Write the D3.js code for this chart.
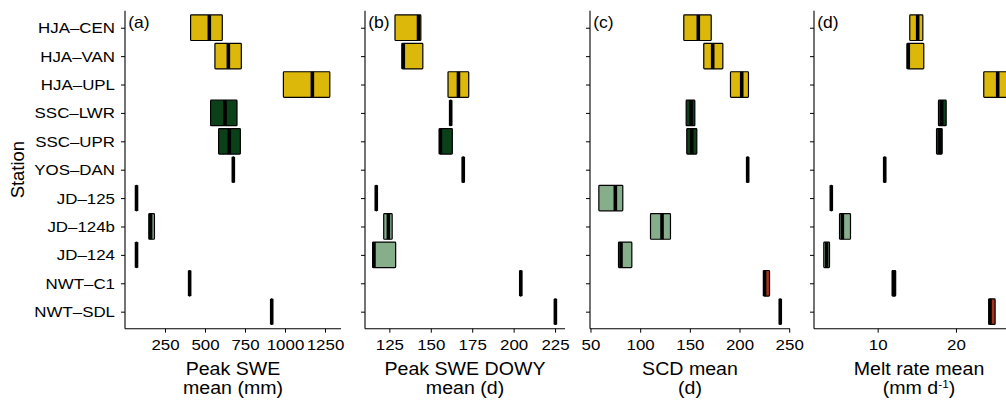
<!DOCTYPE html>
<html>
<head>
<meta charset="utf-8">
<script src="https://cdn.jsdelivr.net/npm/d3@7"></script>
<style>
  html, body { margin: 0; padding: 0; background: #fff; }
  svg { display: block; }
  text { font-family: "Liberation Sans", Arial, Helvetica, sans-serif; fill: #000; }
</style>
</head>
<body>
<svg id="chart" width="1006" height="401"></svg>
<script>
// ---------------- DATA ----------------
const stations = ["HJA–CEN","HJA–VAN","HJA–UPL","SSC–LWR","SSC–UPR","YOS–DAN","JD–125","JD–124b","JD–124","NWT–C1","NWT–SDL"];
const stationGroup = ["HJA","HJA","HJA","SSC","SSC","YOS","JD","JD","JD","NWT","NWT"];

// (a) Peak SWE mean (mm)
const sweMin = [410, 562, 990, 535, 585, 673, 68, 149, 68, 400, 913];
const sweMed = [527, 646, 1171, 625, 652, 677, 72, 160, 72, 404, 917];
const sweMax = [608, 727, 1280, 700, 721, 681, 76, 184, 76, 408, 921];

// (b) Peak SWE DOWY mean (d)
const dowyMin = [128.4, 132.6, 160.4, 161.5, 155.2, 169.1, 116.7, 121.6, 114.9, 203.8, 224.7];
const dowyMed = [142.6, 133.4, 166.7, 162.0, 155.8, 169.6, 117.1, 124.4, 115.7, 204.3, 225.2];
const dowyMax = [144.0, 145.2, 172.9, 162.5, 163.0, 170.1, 117.5, 126.7, 128.8, 204.8, 225.7];

// (c) SCD mean (d)
const scdMin = [143.9, 164.0, 190.9, 146.3, 146.9, 207.3, 58.4, 110.4, 78.2, 224.2, 240.3];
const scdMed = [158.5, 173.0, 202.2, 151.2, 151.9, 208.2, 75.0, 122.0, 80.7, 225.2, 241.0];
const scdMax = [171.5, 183.2, 209.0, 155.0, 157.0, 209.0, 82.5, 130.5, 91.6, 230.2, 241.7];

// (d) Melt rate mean (mm d-1)
const meltMin = [14.10, 13.77, 23.55, 17.77, 17.52, 10.80, 3.99, 5.13, 3.12, 11.85, 24.20];
const meltMed = [15.11, 13.91, 25.33, 18.18, 17.96, 10.90, 4.08, 5.49, 3.49, 12.05, 24.35];
const meltMax = [15.77, 15.89, 26.60, 18.75, 18.24, 11.00, 4.17, 6.53, 3.85, 12.30, 25.00];

// tick labels
const sweTicks  = [250, 500, 750, 1000, 1250];
const dowyTicks = [125, 150, 175, 200, 225];
const scdTicks  = [50, 100, 150, 200, 250];
const meltTicks = [10, 20];

const groupNames  = ["HJA", "SSC", "YOS", "JD", "NWT"];
const groupColors = ["#DBB80A", "#0B4119", "#33331f", "#86AE8B", "#A8321B"];

// ---------------- LAYOUT ----------------
const svg = d3.select("#chart");
svg.append("rect").attr("width", 1006).attr("height", 401).attr("fill", "#fff");

const plotTop = 10.7, plotBottom = 328.7;
const y = d3.scalePoint().domain(stations).range([plotTop, plotBottom]).padding(0.6);
const boxH = y.step() * 0.9;
const color = d3.scaleOrdinal().domain(groupNames).range(groupColors);

const panels = [
  { label: "(a)", min: sweMin,  med: sweMed,  max: sweMax,  ticks: sweTicks,  domain: [0, 1350],       range: [125, 341],  title: ["Peak SWE", "mean (mm)"], showY: true },
  { label: "(b)", min: dowyMin, med: dowyMed, max: dowyMax, ticks: dowyTicks, domain: [110.3, 231.0], range: [365, 565],  title: ["Peak SWE DOWY", "mean (d)"] },
  { label: "(c)", min: scdMin,  med: scdMed,  max: scdMax,  ticks: scdTicks,  domain: [49.5, 250.8],  range: [590, 790],  title: ["SCD mean", "(d)"] },
  { label: "(d)", min: meltMin, med: meltMed, max: meltMax, ticks: meltTicks, domain: [1.87, 28.69],  range: [814, 1024], title: ["Melt rate mean", null], melt: true }
];

const tickFont = 15.5, tickSX = 1.09;
const titleFont = 17.5, titleSX = 1.12;

panels.forEach(p => {
  const x = d3.scaleLinear().domain(p.domain).range(p.range);
  const g = svg.append("g");

  // boxes
  const idx = d3.range(stations.length);
  const bars = g.append("g").selectAll("g").data(idx).join("g");
  bars.append("rect")
    .attr("x", i => x(p.min[i]))
    .attr("width", i => Math.max(0, x(p.max[i]) - x(p.min[i])))
    .attr("y", i => y(stations[i]) - boxH / 2)
    .attr("height", boxH)
    .attr("rx", 0.8)
    .attr("fill", i => color(stationGroup[i]))
    .attr("stroke", "#000")
    .attr("stroke-width", 1.2);
  bars.append("line")
    .attr("x1", i => x(p.med[i])).attr("x2", i => x(p.med[i]))
    .attr("y1", i => y(stations[i]) - boxH / 2)
    .attr("y2", i => y(stations[i]) + boxH / 2)
    .attr("stroke", "#000")
    .attr("stroke-width", 3.6);

  // x axis
  const xa = g.append("g").attr("transform", `translate(0,${plotBottom})`)
    .call(d3.axisBottom(x).tickValues(p.ticks).tickFormat(d3.format("d"))
      .tickSize(4).tickPadding(6).tickSizeOuter(0));
  xa.select(".domain").attr("stroke", "#000").attr("stroke-width", 1.1)
    .attr("d", `M${p.range[0]},0H${p.range[1]}`);
  xa.selectAll(".tick line").attr("stroke", "#000").attr("stroke-width", 1);
  xa.selectAll(".tick text")
    .attr("font-size", tickFont)
    .attr("font-family", null)
    .attr("fill", "#111")
    .attr("transform", `scale(${tickSX},1)`);

  // y axis
  const ya = g.append("g").attr("transform", `translate(${p.range[0]},0)`)
    .call(d3.axisLeft(y).tickSize(4).tickPadding(6).tickSizeOuter(0));
  ya.select(".domain").attr("stroke", "#000").attr("stroke-width", 1.1)
    .attr("d", `M0,${plotTop}V${plotBottom}`);
  ya.selectAll(".tick line").attr("stroke", "#000").attr("stroke-width", 1);
  if (p.showY) {
    ya.selectAll(".tick text")
      .attr("font-size", tickFont)
      .attr("font-family", null)
      .attr("fill", "#111")
      .attr("x", 0)
      .attr("transform", `translate(-10,0) scale(${tickSX},1)`);
  } else {
    ya.selectAll(".tick text").remove();
  }

  // panel label
  g.append("text")
    .attr("transform", `translate(${p.range[0] + 3.3},28) scale(1.06,1)`)
    .attr("font-size", 16.5)
    .text(p.label);

  // axis title
  const cx = (p.range[0] + p.range[1]) / 2;
  g.append("text")
    .attr("transform", `translate(${cx},375) scale(${titleSX},1)`)
    .attr("text-anchor", "middle")
    .attr("font-size", titleFont)
    .text(p.title[0]);
  if (p.melt) {
    const t2 = g.append("text")
      .attr("transform", `translate(${cx},394) scale(${titleSX},1)`)
      .attr("text-anchor", "middle")
      .attr("font-size", titleFont);
    t2.append("tspan").text("(mm d");
    t2.append("tspan").attr("font-size", 10.5).attr("dy", -6).text("-1");
    t2.append("tspan").attr("dy", 6).text(")");
  } else {
    g.append("text")
      .attr("transform", `translate(${cx},393.5) scale(${titleSX},1)`)
      .attr("text-anchor", "middle")
      .attr("font-size", titleFont)
      .text(p.title[1]);
  }
});

// y axis title
svg.append("text")
  .attr("transform", `translate(23.5,${(plotTop + plotBottom) / 2}) rotate(-90) scale(1.05,1)`)
  .attr("text-anchor", "middle")
  .attr("font-size", titleFont)
  .text("Station");
</script>
</body>
</html>
